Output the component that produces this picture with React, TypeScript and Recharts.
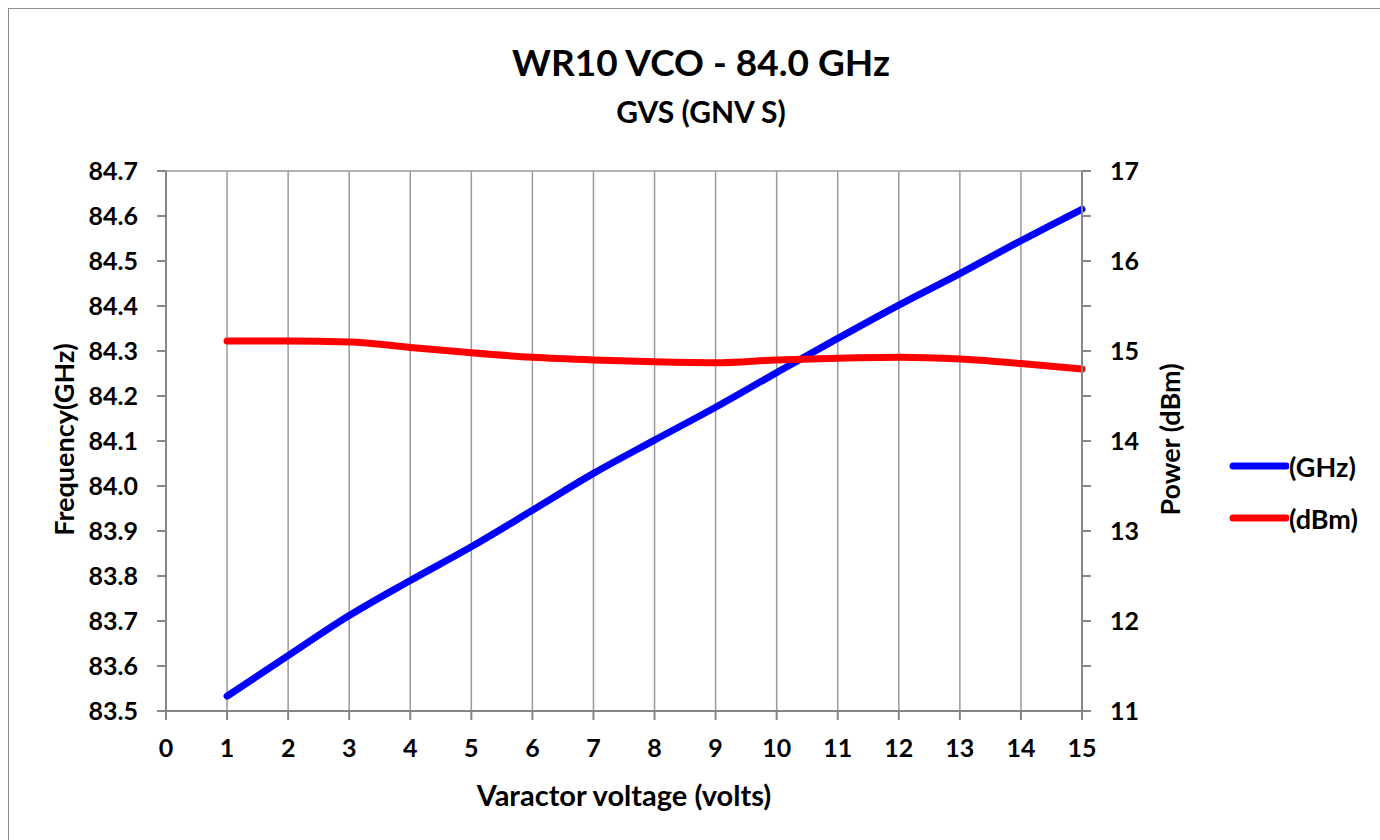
import { LineChart, Line, XAxis, YAxis, CartesianGrid } from 'recharts';

const voltage = [1, 2, 3, 4, 5, 6, 7, 8, 9, 10, 11, 12, 13, 14, 15];
const frequencyGHz = [83.533, 83.623, 83.712, 83.79, 83.865, 83.946, 84.028, 84.102, 84.175, 84.252, 84.328, 84.402, 84.472, 84.545, 84.615];
const powerDbm = [15.11, 15.11, 15.1, 15.04, 14.98, 14.93, 14.9, 14.88, 14.87, 14.9, 14.92, 14.93, 14.91, 14.86, 14.8];

const xTicks = [0, 1, 2, 3, 4, 5, 6, 7, 8, 9, 10, 11, 12, 13, 14, 15];
const freqTicks = [83.5, 83.6, 83.7, 83.8, 83.9, 84.0, 84.1, 84.2, 84.3, 84.4, 84.5, 84.6, 84.7];
const powerTicks = [11, 11.5, 12, 12.5, 13, 13.5, 14, 14.5, 15, 15.5, 16, 16.5, 17];

const data = voltage.map((v, i) => ({ v, ghz: frequencyGHz[i], dbm: powerDbm[i] }));

const FONT = 'Lato, "Open Sans", sans-serif';
const tickStyle = { fontSize: 25, fontWeight: 700, fill: '#000' };

const legendItems = [
  { label: '(GHz)', color: '#0000ff' },
  { label: '(dBm)', color: '#ff0000' },
];

export default function App() {
  return (
    <div style={{ position: 'fixed', left: 0, top: 0, width: 1380, height: 840, overflow: 'hidden', background: '#fff', fontFamily: FONT }}>
      <div style={{ position: 'absolute', left: 8, top: 8, width: 1400, height: 860, border: '1px solid #8c8c8c' }}>
        <div style={{ position: 'absolute', left: 0, top: 30, width: 1384, textAlign: 'center', fontSize: 37, fontWeight: 700 }}>
          WR10 VCO - 84.0 GHz
        </div>
        <div style={{ position: 'absolute', left: 0, top: 84, width: 1384, textAlign: 'center', fontSize: 30, fontWeight: 700 }}>
          GVS (GNV S)
        </div>
        <div style={{ position: 'absolute', left: 0, top: 768, width: 1230, textAlign: 'center', fontSize: 29, fontWeight: 700 }}>
          Varactor voltage (volts)
        </div>
        <div style={{ position: 'absolute', left: 54, top: 432, width: 0, height: 0 }}>
          <div style={{ position: 'absolute', left: -150, top: -18, width: 300, textAlign: 'center', fontSize: 27, fontWeight: 700, transform: 'rotate(-90deg)' }}>
            Frequency(GHz)
          </div>
        </div>
        <div style={{ position: 'absolute', left: 1160, top: 432, width: 0, height: 0 }}>
          <div style={{ position: 'absolute', left: -150, top: -18, width: 300, textAlign: 'center', fontSize: 27, fontWeight: 700, transform: 'rotate(-90deg)' }}>
            Power (dBm)
          </div>
        </div>
        <div style={{ position: 'absolute', left: 1218, top: 431, fontSize: 27, fontWeight: 700, color: '#000' }}>
          {legendItems.map((item) => (
            <div key={item.label} style={{ display: 'flex', alignItems: 'center', height: 52 }}>
              <svg width={62} height={10}>
                <line x1={6} y1={5} x2={59} y2={5} stroke={item.color} strokeWidth={7} strokeLinecap="round" />
              </svg>
              <span>{item.label}</span>
            </div>
          ))}
        </div>
        <LineChart width={1371} height={831} data={data} margin={{ top: 162, right: 198, bottom: 69, left: 57 }}>
          <CartesianGrid stroke="#9a9a9a" strokeWidth={1.5} />
          <XAxis
            dataKey="v"
            type="number"
            domain={[0, 15]}
            ticks={xTicks}
            interval={0}
            height={60}
            tick={tickStyle}
            tickSize={9}
            tickMargin={19}
            stroke="#868686"
            strokeWidth={2}
          />
          <YAxis
            yAxisId="left"
            domain={[83.5, 84.7]}
            ticks={freqTicks}
            interval={0}
            width={100}
            tick={tickStyle}
            tickSize={9}
            tickMargin={19}
            tickFormatter={(t: number) => t.toFixed(1)}
            stroke="#868686"
            strokeWidth={2}
            allowDataOverflow
          />
          <YAxis
            yAxisId="right"
            orientation="right"
            domain={[11, 17]}
            ticks={powerTicks}
            interval={0}
            width={100}
            tick={tickStyle}
            tickSize={9}
            tickMargin={19}
            tickFormatter={(t: number) => (Number.isInteger(t) ? String(t) : '')}
            stroke="#868686"
            strokeWidth={2}
            allowDataOverflow
          />
          <Line
            yAxisId="left"
            dataKey="ghz"
            name="(GHz)"
            type="monotone"
            stroke="#0000ff"
            strokeWidth={7}
            strokeLinecap="round"
            dot={false}
            activeDot={false}
            isAnimationActive={false}
          />
          <Line
            yAxisId="right"
            dataKey="dbm"
            name="(dBm)"
            type="monotone"
            stroke="#ff0000"
            strokeWidth={7}
            strokeLinecap="round"
            dot={false}
            activeDot={false}
            isAnimationActive={false}
          />
        </LineChart>
      </div>
    </div>
  );
}
